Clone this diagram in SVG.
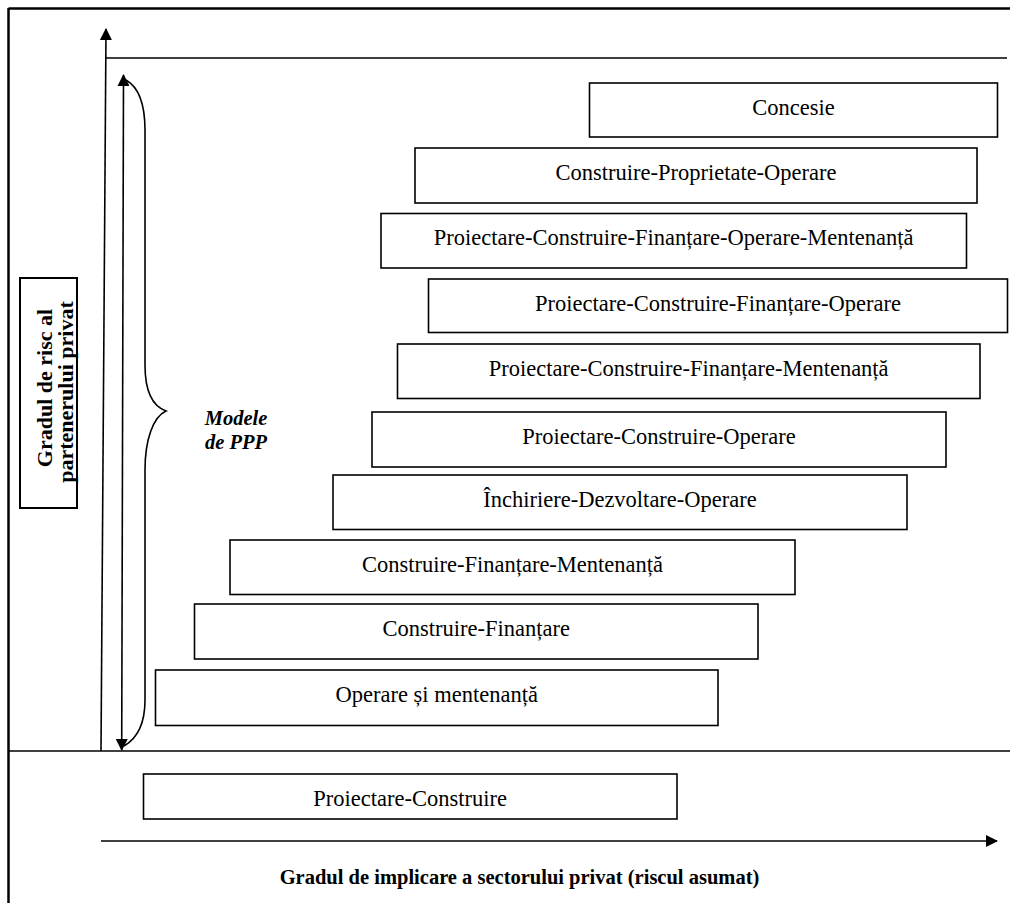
<svg xmlns="http://www.w3.org/2000/svg" width="1010" height="903" viewBox="0 0 1010 903">
<style>
.box{fill:#fff;stroke:#000;stroke-width:1.6}
.t{font-family:"Liberation Serif","Times New Roman",serif;font-size:22.5px;text-anchor:middle;fill:#000}
.b{font-family:"Liberation Serif","Times New Roman",serif;font-weight:bold;fill:#000}
.ln{stroke:#000;stroke-width:1.6;fill:none}
</style>
<defs>
<marker id="ah" viewBox="0 0 12 12" refX="11" refY="6" markerWidth="12" markerHeight="12" markerUnits="userSpaceOnUse" orient="auto-start-reverse">
<path d="M0,0 L12,6 L0,12 Z" fill="#000"/>
</marker>
</defs>
<rect width="1010" height="903" fill="#fff"/>
<g id="frame">
<line x1="8.5" y1="8.5" x2="1010" y2="8.5" stroke="#000" stroke-width="2.5"/>
<line x1="8.5" y1="8" x2="8.5" y2="903" stroke="#000" stroke-width="2.5"/>
<line class="ln" x1="8" y1="751" x2="1010" y2="751"/>
<line class="ln" x1="106" y1="58" x2="1007" y2="58"/>
</g>
<g id="connectors">
<line class="ln" x1="101" y1="751" x2="106" y2="29" marker-end="url(#ah)"/>
<line class="ln" x1="121.7" y1="750" x2="123.5" y2="75" marker-start="url(#ah)" marker-end="url(#ah)"/>
<line class="ln" x1="101" y1="841" x2="997" y2="841" marker-end="url(#ah)"/>
<path class="ln" d="M126,80 C140,88 145,105 145,130 L145,365 C145,395 155,407 166,411 C153,417 145,440 145,470 L145,700 C145,722 138,738 124,746"/>
</g>
<g id="y-label">
<rect x="20" y="278" width="57" height="230" fill="none" stroke="#000" stroke-width="2"/>
<text class="b" font-size="22" text-anchor="middle" transform="translate(52,388) rotate(-90)">Gradul de risc al</text>
<text class="b" font-size="22" text-anchor="middle" transform="translate(73,392) rotate(-90)">partenerului privat</text>
</g>
<g id="brace-label">
<text class="b" font-size="20.5" font-style="italic" text-anchor="middle" x="236" y="425">Modele</text>
<text class="b" font-size="20.5" font-style="italic" text-anchor="middle" x="236" y="449">de PPP</text>
</g>
<g id="n1"><rect class="box" x="589.5" y="83" width="408" height="54"/><text class="t" x="793.5" y="114.5">Concesie</text></g>
<g id="n2"><rect class="box" x="415" y="148" width="562" height="55"/><text class="t" x="696" y="179.5">Construire-Proprietate-Operare</text></g>
<g id="n3"><rect class="box" x="381" y="213.5" width="585.5" height="54.5"/><text class="t" x="673.7" y="245">Proiectare-Construire-Finanțare-Operare-Mentenanță</text></g>
<g id="n4"><rect class="box" x="428.5" y="279" width="579" height="53.5"/><text class="t" x="718" y="310.5">Proiectare-Construire-Finanțare-Operare</text></g>
<g id="n5"><rect class="box" x="397.5" y="344" width="582.5" height="54.5"/><text class="t" x="688.7" y="375.5">Proiectare-Construire-Finanțare-Mentenanță</text></g>
<g id="n6"><rect class="box" x="372" y="412" width="574" height="55"/><text class="t" x="659" y="443.5">Proiectare-Construire-Operare</text></g>
<g id="n7"><rect class="box" x="333" y="475" width="574" height="54.5"/><text class="t" x="620" y="506.5">Închiriere-Dezvoltare-Operare</text></g>
<g id="n8"><rect class="box" x="230" y="540" width="565" height="54.5"/><text class="t" x="512.5" y="571.5">Construire-Finanțare-Mentenanță</text></g>
<g id="n9"><rect class="box" x="194.5" y="604" width="563.5" height="55"/><text class="t" x="476.2" y="635.5">Construire-Finanțare</text></g>
<g id="n10"><rect class="box" x="155.5" y="670" width="562.5" height="55.5"/><text class="t" x="436.7" y="701.5">Operare și mentenanță</text></g>
<g id="n11"><rect class="box" x="143.5" y="774" width="533.5" height="45"/><text class="t" x="410.2" y="805.5">Proiectare-Construire</text></g>
<g id="x-label">
<text class="b" font-size="20.5" text-anchor="middle" x="519.5" y="884">Gradul de implicare a sectorului privat (riscul asumat)</text>
</g>
</svg>
